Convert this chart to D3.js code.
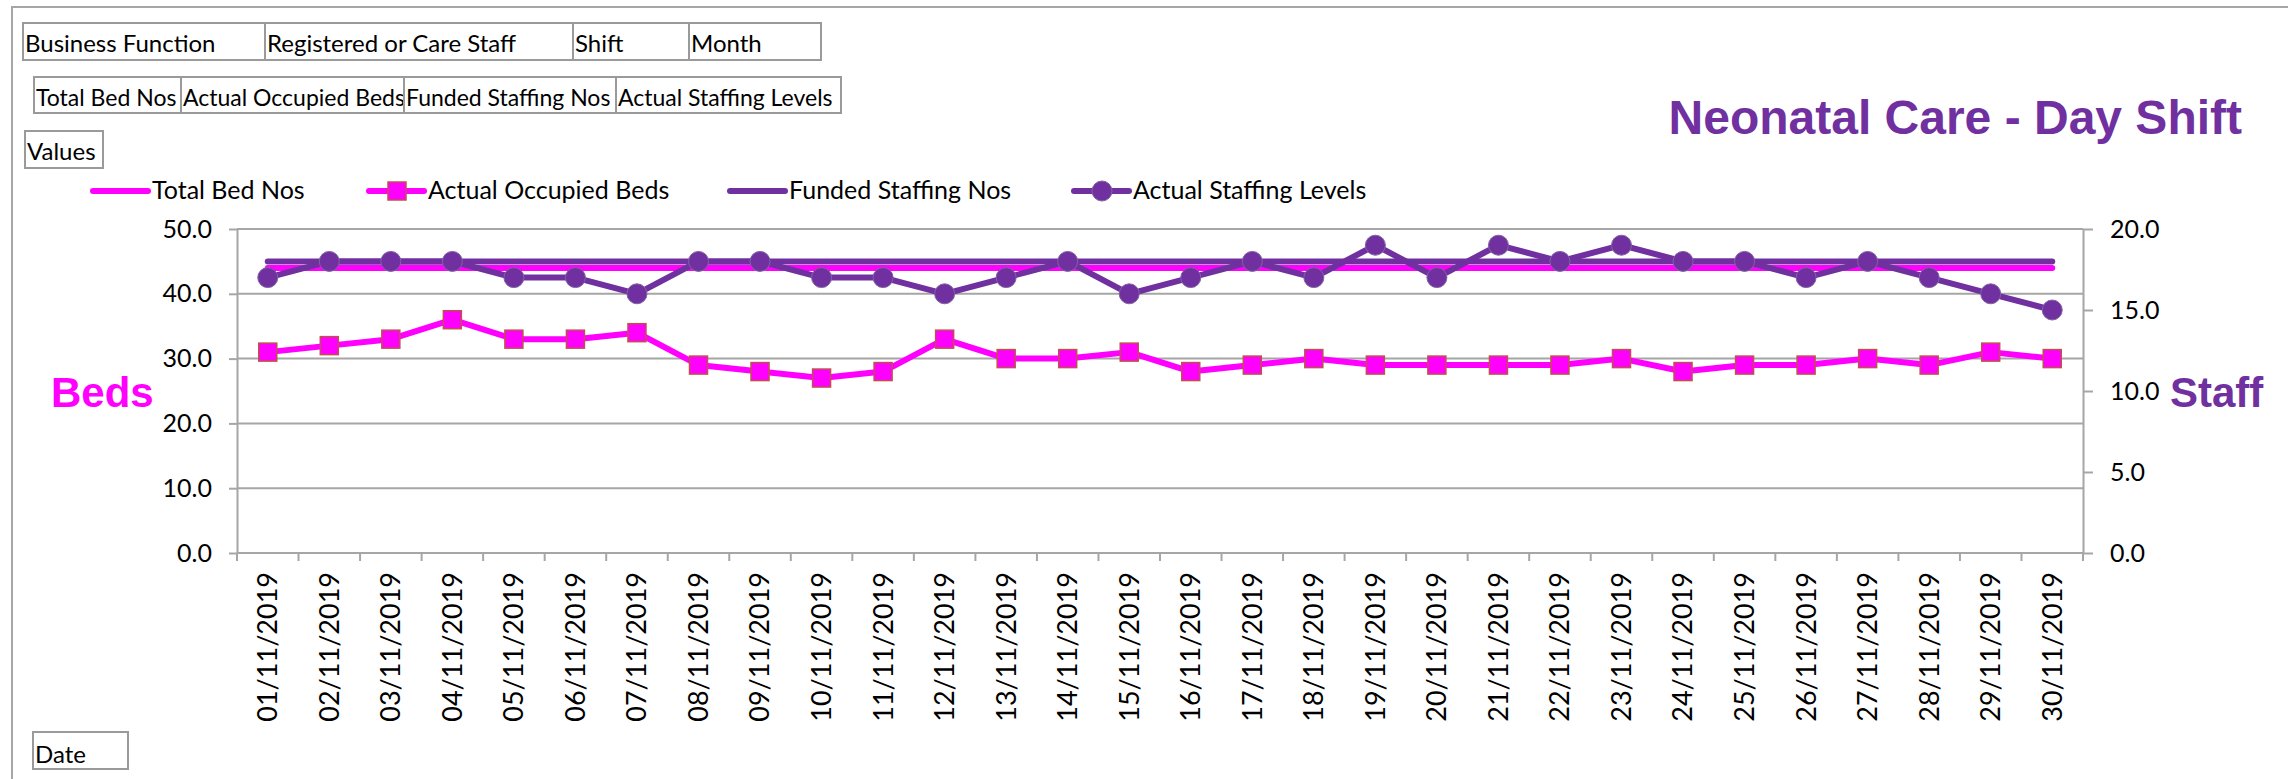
<!DOCTYPE html>
<html>
<head>
<meta charset="utf-8">
<script src="https://cdn.jsdelivr.net/npm/d3@7"></script>
<style>
body { margin: 0; background: #fff; overflow: hidden; }
svg text { font-family: Lato, "Noto Sans", sans-serif; fill: #000; }
svg text.heading { font-family: "Liberation Sans", Arial, sans-serif; font-weight: bold; }
</style>
</head>
<body>
<div id="chart"></div>
<script>
// values (Nov 2019, day shift)
const dates = ["01/11/2019", "02/11/2019", "03/11/2019", "04/11/2019", "05/11/2019", "06/11/2019",
  "07/11/2019", "08/11/2019", "09/11/2019", "10/11/2019", "11/11/2019", "12/11/2019",
  "13/11/2019", "14/11/2019", "15/11/2019", "16/11/2019", "17/11/2019", "18/11/2019",
  "19/11/2019", "20/11/2019", "21/11/2019", "22/11/2019", "23/11/2019", "24/11/2019",
  "25/11/2019", "26/11/2019", "27/11/2019", "28/11/2019", "29/11/2019", "30/11/2019"];
const totalBedNos = [44, 44, 44, 44, 44, 44, 44, 44, 44, 44, 44, 44, 44, 44, 44,
  44, 44, 44, 44, 44, 44, 44, 44, 44, 44, 44, 44, 44, 44, 44];
const occupiedBeds = [31, 32, 33, 36, 33, 33, 34, 29, 28, 27, 28, 33, 30, 30, 31,
  28, 29, 30, 29, 29, 29, 29, 30, 28, 29, 29, 30, 29, 31, 30];
const fundedStaffing = [18, 18, 18, 18, 18, 18, 18, 18, 18, 18, 18, 18, 18, 18, 18,
  18, 18, 18, 18, 18, 18, 18, 18, 18, 18, 18, 18, 18, 18, 18];
const actualStaffing = [17, 18, 18, 18, 17, 17, 16, 18, 18, 17, 17, 16, 17, 18, 16,
  17, 18, 17, 19, 17, 19, 18, 19, 18, 18, 17, 18, 17, 16, 15];
const bedTicks = [0, 10, 20, 30, 40, 50];
const staffTicks = [0, 5, 10, 15, 20];
const filterFields = ["Business Function", "Registered or Care Staff", "Shift", "Month"];
const valueFields = ["Total Bed Nos", "Actual Occupied Beds", "Funded Staffing Nos", "Actual Staffing Levels"];

// layout
const width = 2288, height = 779;
const margin = {top: 229, right: 205, bottom: 226, left: 237};
const pink = "#FF00FF", purple = "#7030A0", grey = "#A6A6A6";
const filterWidths = [242, 308, 116, 132];
const valueWidths = [147, 223, 212, 225];
const legendX = [93, 369, 730, 1074];

const svg = d3.select("#chart").append("svg")
  .attr("width", width)
  .attr("height", height);

// chart area border (runs off the right and bottom)
svg.append("path")
  .attr("d", `M12,${height} V7 H${width}`)
  .attr("fill", "none")
  .attr("stroke", grey)
  .attr("stroke-width", 2);

// pivot field buttons
function buttons(labels, widths, x0, y0, h, base, fs) {
  let x = x0;
  labels.forEach((t, i) => {
    svg.append("rect")
      .attr("x", x).attr("y", y0)
      .attr("width", widths[i]).attr("height", h)
      .attr("fill", "#fff")
      .attr("stroke", "#9a9a9a")
      .attr("stroke-width", 2);
    svg.append("text")
      .attr("x", x + 2).attr("y", y0 + base)
      .attr("font-size", fs)
      .text(t);
    x += widths[i];
  });
}
buttons(filterFields, filterWidths, 23, 23, 37, 29, "24px");
buttons(valueFields, valueWidths, 34, 77, 36, 29, "23px");
buttons(["Values"], [78], 25, 131, 37, 29, "24px");
buttons(["Date"], [95], 33, 732, 37, 31, "24px");

const x = d3.scaleBand()
  .domain(dates)
  .range([margin.left, width - margin.right]);
const yL = d3.scaleLinear()
  .domain([0, 50])
  .range([height - margin.bottom, margin.top]);
const yR = d3.scaleLinear()
  .domain([0, 20])
  .range([height - margin.bottom, margin.top]);
const cx = d => x(d) + x.bandwidth() / 2;

// gridlines
svg.append("g")
  .selectAll("line")
  .data(bedTicks)
  .join("line")
  .attr("x1", margin.left).attr("x2", width - margin.right)
  .attr("y1", d => yL(d)).attr("y2", d => yL(d))
  .attr("stroke", grey)
  .attr("stroke-width", 2);

// left axis
const gL = svg.append("g")
  .attr("transform", `translate(${margin.left},0)`)
  .call(d3.axisLeft(yL).tickValues(bedTicks).tickFormat(d3.format(".1f")).tickSize(8).tickSizeOuter(0).tickPadding(17));
// right axis
const gR = svg.append("g")
  .attr("transform", `translate(${width - margin.right},0)`)
  .call(d3.axisRight(yR).tickValues(staffTicks).tickFormat(d3.format(".1f")).tickSize(10).tickSizeOuter(0).tickPadding(17));
[gL, gR].forEach(g => {
  g.selectAll("path, line").attr("stroke", grey).attr("stroke-width", 2);
  g.selectAll("text").attr("font-size", "25px").attr("fill", "#000");
});

// bottom axis: ticks on category boundaries, labels rotated
const gB = svg.append("g")
  .attr("transform", `translate(0,${height - margin.bottom})`);
gB.selectAll("line")
  .data(dates.concat(["end"]))
  .join("line")
  .attr("x1", (d, i) => margin.left + i * x.step())
  .attr("x2", (d, i) => margin.left + i * x.step())
  .attr("y1", 0).attr("y2", 8)
  .attr("stroke", grey)
  .attr("stroke-width", 2);
gB.selectAll("text")
  .data(dates)
  .join("text")
  .attr("transform", d => `translate(${cx(d)},19) rotate(-90)`)
  .attr("text-anchor", "end")
  .attr("dy", "0.35em")
  .attr("font-size", "27px")
  .text(d => d);

// series
const lineL = d3.line().x((d, i) => cx(dates[i])).y(d => yL(d));
const lineR = d3.line().x((d, i) => cx(dates[i])).y(d => yR(d));

svg.append("path").datum(totalBedNos)
  .attr("d", lineL).attr("fill", "none")
  .attr("stroke", pink).attr("stroke-width", 6).attr("stroke-linecap", "round");
svg.append("path").datum(occupiedBeds)
  .attr("d", lineL).attr("fill", "none")
  .attr("stroke", pink).attr("stroke-width", 6).attr("stroke-linejoin", "round");
svg.append("g").selectAll("rect")
  .data(occupiedBeds)
  .join("rect")
  .attr("x", (d, i) => cx(dates[i]) - 9)
  .attr("y", d => yL(d) - 9)
  .attr("width", 18).attr("height", 18)
  .attr("fill", pink)
  .attr("stroke", "#C0504D")
  .attr("stroke-width", 1.5);

svg.append("path").datum(fundedStaffing)
  .attr("d", lineR).attr("fill", "none")
  .attr("stroke", purple).attr("stroke-width", 6).attr("stroke-linecap", "round");
svg.append("path").datum(actualStaffing)
  .attr("d", lineR).attr("fill", "none")
  .attr("stroke", purple).attr("stroke-width", 6).attr("stroke-linejoin", "round");
svg.append("g").selectAll("circle")
  .data(actualStaffing)
  .join("circle")
  .attr("cx", (d, i) => cx(dates[i]))
  .attr("cy", d => yR(d))
  .attr("r", 10)
  .attr("fill", purple)
  .attr("stroke", "#8064A2")
  .attr("stroke-width", 1);

// legend
const legendColor = [pink, pink, purple, purple];
valueFields.forEach((name, i) => {
  const lx = legendX[i], ly = 191;
  svg.append("line")
    .attr("x1", lx).attr("x2", lx + 55)
    .attr("y1", ly).attr("y2", ly)
    .attr("stroke", legendColor[i]).attr("stroke-width", 6).attr("stroke-linecap", "round");
  if (i === 1) {
    svg.append("rect")
      .attr("x", lx + 19).attr("y", ly - 9)
      .attr("width", 18).attr("height", 18)
      .attr("fill", pink).attr("stroke", "#C0504D").attr("stroke-width", 1.5);
  }
  if (i === 3) {
    svg.append("circle")
      .attr("cx", lx + 28).attr("cy", ly).attr("r", 10)
      .attr("fill", purple).attr("stroke", "#8064A2");
  }
  svg.append("text")
    .attr("x", lx + 59).attr("y", 199)
    .attr("font-size", "25px")
    .text(name);
});

// titles
svg.append("text")
  .attr("class", "heading")
  .text("Neonatal Care - Day Shift")
  .attr("x", 2242).attr("y", 134)
  .attr("text-anchor", "end")
  .attr("font-size", "48px")
  .style("fill", purple);
svg.append("text")
  .attr("class", "heading")
  .text("Beds")
  .attr("x", 51).attr("y", 407)
  .attr("font-size", "42px")
  .style("fill", pink);
svg.append("text")
  .attr("class", "heading")
  .text("Staff")
  .attr("x", 2170).attr("y", 407)
  .attr("font-size", "42px")
  .style("fill", purple);
</script>
</body>
</html>
